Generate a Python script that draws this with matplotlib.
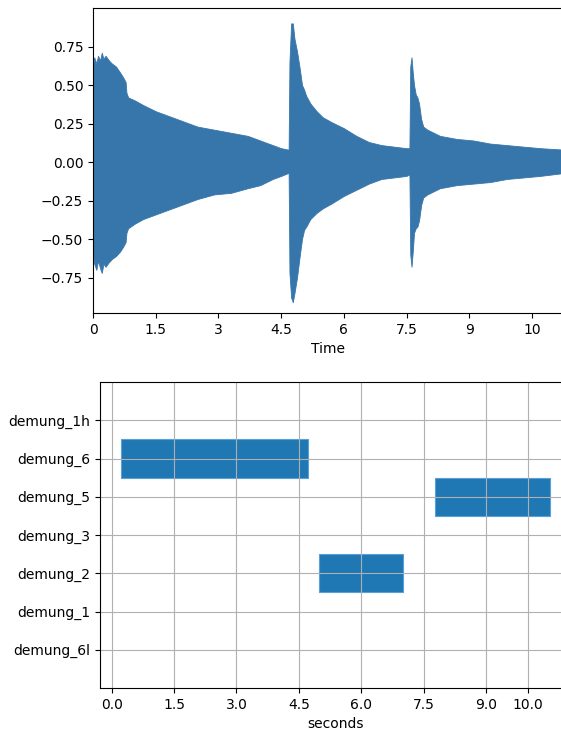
import matplotlib
matplotlib.use('Agg')
import matplotlib.pyplot as plt

# waveform envelope (seconds, upper, lower)
env_time = [0.00, 0.03, 0.08, 0.12, 0.17, 0.21, 0.25, 0.30, 0.38, 0.45,
            0.55, 0.65, 0.72, 0.78, 0.80, 0.84, 1.0, 1.2, 1.5, 1.8,
            2.1, 2.5, 2.9, 3.3, 3.7, 4.0, 4.3, 4.5, 4.68, 4.70,
            4.74, 4.78, 4.82, 4.88, 4.95, 5.00, 5.05, 5.10, 5.2, 5.35,
            5.5, 5.7, 6.0, 6.3, 6.6, 6.9, 7.2, 7.5, 7.57, 7.59,
            7.62, 7.65, 7.68, 7.72, 7.76, 7.80, 7.85, 7.9, 8.0, 8.3,
            8.7, 9.1, 9.5, 9.9, 10.3, 10.7, 11.3]
env_upper = [0.62, 0.68, 0.64, 0.69, 0.66, 0.71, 0.67, 0.69, 0.66, 0.64,
             0.62, 0.58, 0.55, 0.52, 0.45, 0.42, 0.40, 0.37, 0.33, 0.30,
             0.27, 0.23, 0.21, 0.19, 0.17, 0.14, 0.11, 0.09, 0.08, 0.65,
             0.90, 0.90, 0.80, 0.72, 0.60, 0.50, 0.47, 0.43, 0.38, 0.33,
             0.29, 0.26, 0.22, 0.17, 0.13, 0.11, 0.10, 0.09, 0.09, 0.62,
             0.68, 0.58, 0.50, 0.44, 0.42, 0.38, 0.28, 0.23, 0.21, 0.17,
             0.15, 0.14, 0.12, 0.11, 0.10, 0.09, 0.08]
env_lower = [-0.60, -0.66, -0.70, -0.64, -0.69, -0.72, -0.66, -0.68, -0.65, -0.63,
             -0.61, -0.58, -0.55, -0.52, -0.46, -0.43, -0.40, -0.37, -0.34, -0.31,
             -0.28, -0.24, -0.21, -0.20, -0.17, -0.15, -0.11, -0.09, -0.07, -0.72,
             -0.88, -0.91, -0.85, -0.75, -0.60, -0.50, -0.44, -0.42, -0.37, -0.33,
             -0.30, -0.27, -0.22, -0.18, -0.14, -0.11, -0.10, -0.09, -0.08, -0.60,
             -0.68, -0.58, -0.46, -0.43, -0.42, -0.38, -0.28, -0.23, -0.21, -0.17,
             -0.15, -0.14, -0.13, -0.11, -0.10, -0.09, -0.07]

# note segments
notes = ['demung_6l', 'demung_1', 'demung_2', 'demung_3', 'demung_5', 'demung_6', 'demung_1h']
seg_note = ['demung_6', 'demung_2', 'demung_5']
seg_start = [0.22, 4.99, 7.76]
seg_end = [4.72, 7.01, 10.53]

top_ticks = [0, 1.5, 3, 4.5, 6, 7.5, 9, 10.5]
top_ticklabels = ['0', '1.5', '3', '4.5', '6', '7.5', '9', '10']
bottom_ticks = [0, 1.5, 3, 4.5, 6, 7.5, 9, 10]


def main():
    W, H = 561, 731
    fig = plt.figure(figsize=(W / 100, H / 100), dpi=100)

    ##############################
    # waveform
    ax1 = fig.add_axes([93 / W, (H - 313) / H, (562 - 93) / W, (313 - 8) / H])
    ax1.fill_between(env_time, env_lower, env_upper, color='#3776ab', linewidth=0.6,
                     edgecolor='#3776ab')
    ax1.set_xlim(0, (562 - 93) / 41.8)
    ax1.set_ylim(-0.98, 1.0)
    ax1.set_yticks([-0.75, -0.5, -0.25, 0, 0.25, 0.5, 0.75])
    ax1.set_xticks(top_ticks)
    ax1.set_xticklabels(top_ticklabels)
    ax1.spines['right'].set_visible(False)
    ax1.set_xlabel('Time')

    ##############################
    # note segments
    ax2 = fig.add_axes([100 / W, (H - 688) / H, (571 - 100) / W, (688 - 382) / H])
    ypos = [notes.index(n) for n in seg_note]
    widths = [e - s for s, e in zip(seg_start, seg_end)]
    ax2.barh(ypos, widths, left=seg_start, height=1.0, color='#1f77b4',
             edgecolor='#5a9fd6', linewidth=0.8)
    ax2.set_yticks(range(len(notes)))
    ax2.set_yticklabels(notes)
    ax2.set_ylim(-1, 7)
    ax2.set_xlim(-0.28, 11.04)
    ax2.set_xticks(bottom_ticks)
    ax2.grid(True)
    ax2.spines['right'].set_visible(False)
    ax2.set_xlabel('seconds')

    fig.savefig('out.png', dpi=100)


if __name__ == '__main__':
    main()
